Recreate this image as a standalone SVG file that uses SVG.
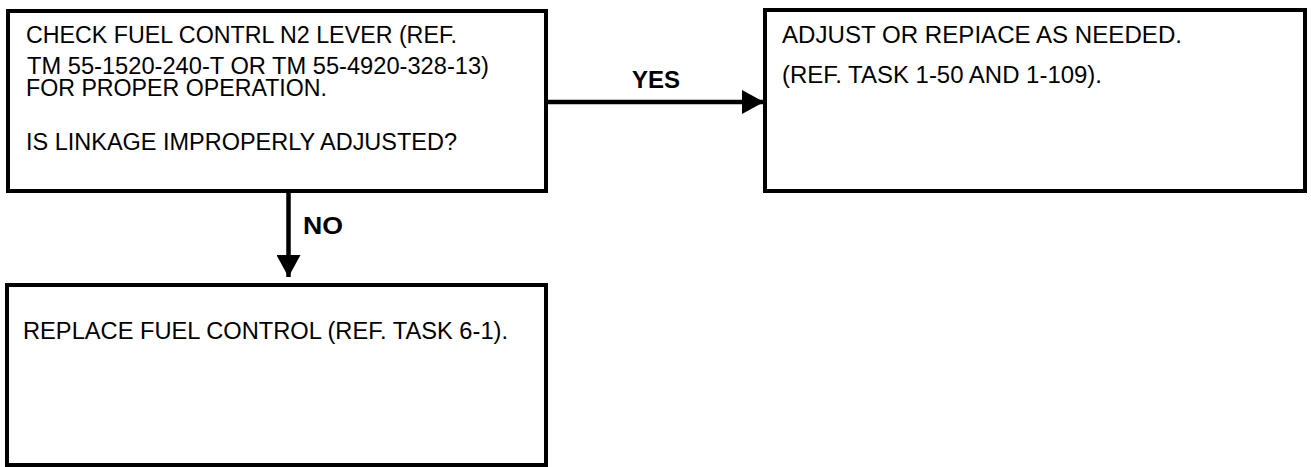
<svg xmlns="http://www.w3.org/2000/svg" width="1311" height="467" viewBox="0 0 1311 467">
<defs>
<style>
.box{fill:#fff;stroke:#000;stroke-width:4}
.t{font-family:"Liberation Sans",Arial,sans-serif;font-size:23.5px;fill:#000}
.lbl{font-family:"Liberation Sans",Arial,sans-serif;font-size:23px;font-weight:bold;fill:#000}
.conn{stroke:#000;stroke-width:4.5;fill:none}
</style>
<marker id="ah" viewBox="0 0 22 24" refX="22" refY="12" markerWidth="22" markerHeight="24" markerUnits="userSpaceOnUse" orient="auto">
<path d="M0,0 L22,12 L0,24 Z" fill="#000"/>
</marker>
</defs>
<rect width="1311" height="467" fill="#fff"/>
<g id="connectors">
<line class="conn" x1="546" y1="102" x2="764" y2="102" marker-end="url(#ah)"/>
<text class="lbl" x="632" y="88" textLength="48" lengthAdjust="spacingAndGlyphs">YES</text>
<line class="conn" x1="288.5" y1="191" x2="288.5" y2="277" marker-end="url(#ah)"/>
<text class="lbl" x="303" y="234" textLength="40" lengthAdjust="spacingAndGlyphs">NO</text>
</g>
<g id="node-check">
<rect class="box" x="8" y="11" width="538" height="180"/>
<text class="t" x="26" y="43" textLength="431" lengthAdjust="spacingAndGlyphs">CHECK FUEL CONTRL N2 LEVER (REF.</text>
<text class="t" x="27" y="74" textLength="462" lengthAdjust="spacingAndGlyphs">TM 55-1520-240-T OR TM 55-4920-328-13)</text>
<text class="t" x="26" y="96" textLength="301" lengthAdjust="spacingAndGlyphs">FOR PROPER OPERATION.</text>
<text class="t" x="26" y="150" textLength="431" lengthAdjust="spacingAndGlyphs">IS LINKAGE IMPROPERLY ADJUSTED?</text>
</g>
<g id="node-adjust">
<rect class="box" x="765" y="10" width="540" height="181"/>
<text class="t" x="782" y="43" textLength="400" lengthAdjust="spacingAndGlyphs">ADJUST OR REPIACE AS NEEDED.</text>
<text class="t" x="782" y="83" textLength="320" lengthAdjust="spacingAndGlyphs">(REF. TASK 1-50 AND 1-109).</text>
</g>
<g id="node-replace">
<rect class="box" x="7" y="285" width="539" height="180"/>
<text class="t" x="23" y="339" textLength="485" lengthAdjust="spacingAndGlyphs">REPLACE FUEL CONTROL (REF. TASK 6-1).</text>
</g>
</svg>
